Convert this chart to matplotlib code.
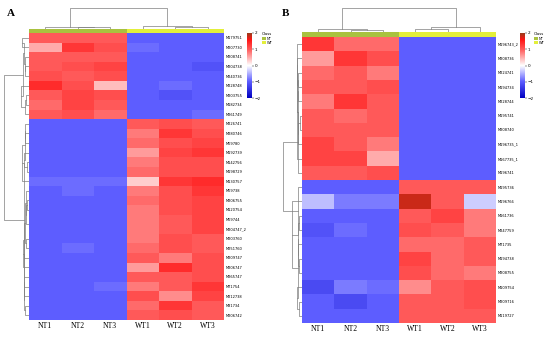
import numpy as np
import matplotlib
matplotlib.use("Agg")
import matplotlib.pyplot as plt
from matplotlib.colors import LinearSegmentedColormap, ListedColormap
from matplotlib.patches import Patch

# ---- data ----
samples = ["NT1", "NT2", "NT3", "WT1", "WT2", "WT3"]
sample_class = ["NT", "NT", "NT", "WT", "WT", "WT"]

genes_a = ["M179751", "M207730", "M208741", "M204738", "M240736", "M228748",
           "M203755", "M182734", "M261749", "M226741", "M280746", "M69780",
           "M192739", "M142756", "M198729", "M130757", "M69738", "M206755",
           "M120754", "M69744", "M204747_2", "M203760", "M251760", "M209747",
           "M206747", "M265747", "M71754", "M212738", "M31734", "M206742"]
values_a = [
    [1.0, 1.0, 1.0, -1.0, -1.0, -1.0],
    [0.5, 1.3, 1.1, -0.9, -1.0, -1.0],
    [1.0, 1.0, 1.0, -1.0, -1.0, -1.0],
    [1.0, 1.1, 1.2, -1.0, -1.0, -1.1],
    [1.1, 1.0, 1.1, -1.0, -1.0, -1.0],
    [1.4, 1.1, 0.4, -1.0, -0.9, -1.0],
    [1.0, 1.2, 1.1, -1.0, -1.1, -1.0],
    [0.9, 1.2, 1.0, -1.0, -1.0, -1.0],
    [1.0, 1.1, 0.9, -1.0, -1.0, -0.9],
    [-1.0, -1.0, -1.0, 1.0, 1.1, 1.0],
    [-1.0, -1.0, -1.0, 0.8, 1.3, 1.1],
    [-1.0, -1.0, -1.0, 0.9, 1.1, 1.2],
    [-1.0, -1.0, -1.0, 0.6, 1.2, 1.3],
    [-1.0, -1.0, -1.0, 0.8, 1.1, 1.1],
    [-1.0, -1.0, -1.0, 0.9, 1.1, 1.1],
    [-0.9, -0.9, -0.9, 0.3, 1.3, 1.4],
    [-1.0, -0.9, -1.0, 0.8, 1.1, 1.3],
    [-1.0, -1.0, -1.0, 0.9, 1.1, 1.2],
    [-1.0, -1.0, -1.0, 0.8, 1.1, 1.2],
    [-1.0, -1.0, -1.0, 0.8, 1.0, 1.2],
    [-1.0, -1.0, -1.0, 0.8, 1.0, 1.2],
    [-1.0, -1.0, -1.0, 0.8, 1.1, 1.0],
    [-1.0, -0.9, -1.0, 0.9, 1.1, 1.0],
    [-1.0, -1.0, -1.0, 1.0, 0.8, 1.1],
    [-1.0, -1.0, -1.0, 0.6, 1.4, 1.1],
    [-1.0, -1.0, -1.0, 1.0, 1.0, 1.1],
    [-1.0, -1.0, -0.9, 0.8, 1.0, 1.3],
    [-1.0, -1.0, -1.0, 1.1, 0.7, 1.2],
    [-1.0, -1.0, -1.0, 0.9, 1.3, 1.0],
    [-1.0, -1.0, -1.0, 1.0, 1.1, 1.0],
]

genes_b = ["M196743_2", "M208736", "M224741", "M194734", "M228744", "M195741",
           "M208740", "M196735_1", "M167735_1", "M196741", "M195736", "M196766",
           "M161736", "M247759", "M71735", "M194738", "M208755", "M109754",
           "M209716", "M119727"]
values_b = [
    [1.3, 0.9, 0.9, -1.0, -1.0, -1.0],
    [0.6, 1.3, 1.1, -1.0, -1.0, -1.0],
    [0.9, 1.0, 0.8, -1.0, -1.0, -1.0],
    [1.0, 1.0, 1.1, -1.0, -1.0, -1.0],
    [0.8, 1.3, 1.0, -1.0, -1.0, -1.0],
    [1.0, 0.9, 1.0, -1.0, -1.0, -1.0],
    [1.0, 1.0, 1.0, -1.0, -1.0, -1.0],
    [1.2, 1.0, 0.8, -1.0, -1.0, -1.0],
    [1.2, 1.2, 0.5, -1.0, -1.0, -1.0],
    [1.0, 1.0, 1.1, -1.0, -1.0, -1.0],
    [-1.0, -1.0, -1.0, 1.0, 1.0, 1.0],
    [-0.4, -0.8, -0.8, 1.8, 1.0, -0.3],
    [-1.0, -1.0, -1.0, 1.0, 1.2, 0.8],
    [-1.1, -0.9, -1.0, 1.1, 1.0, 0.8],
    [-1.0, -1.0, -1.0, 0.9, 0.9, 1.0],
    [-1.0, -1.0, -1.0, 1.2, 0.9, 1.0],
    [-1.0, -1.0, -1.0, 1.1, 0.9, 0.8],
    [-1.2, -0.8, -0.9, 0.7, 1.0, 1.1],
    [-1.0, -1.2, -1.0, 1.0, 1.0, 1.1],
    [-1.0, -1.0, -1.0, 1.0, 1.0, 1.0],
]

class_colors = {"NT": "#a9c23f", "WT": "#e3ef3b"}

cmap = LinearSegmentedColormap.from_list(
    "hm", [(0.0, "#0000c0"), (0.25, "#5c5cff"), (0.5, "#ffffff"),
           (0.75, "#ff5a5a"), (0.9, "#ff1414"), (1.0, "#9a3c1c")])

W, H = 550, 339


def rect(x0, y0, x1, y1):
    # pixel box (top-left origin) -> figure fraction
    return [x0 / W, 1 - y1 / H, (x1 - x0) / W, (y1 - y0) / H]


def adjacent_linkage(X):
    # average linkage, only neighbouring clusters may merge (keeps display order)
    clusters = [[i] for i in range(len(X))]
    pos = [i + 0.5 for i in range(len(X))]
    hts = [0.0] * len(X)
    links = []
    while len(clusters) > 1:
        best, bi = None, 0
        for i in range(len(clusters) - 1):
            a, b = X[clusters[i]], X[clusters[i + 1]]
            d = np.mean([np.linalg.norm(p - q) for p in a for q in b])
            if best is None or d < best:
                best, bi = d, i
        links.append((pos[bi], pos[bi + 1], hts[bi], hts[bi + 1], best))
        clusters[bi] = clusters[bi] + clusters.pop(bi + 1)
        pos[bi] = (pos[bi] + pos.pop(bi + 1)) / 2
        hts[bi] = best
        hts.pop(bi + 1)
    return links


def draw_dendro(ax, links, orient, power):
    for p1, p2, h1, h2, h in links:
        hh = [h1 ** power, h ** power, h ** power, h2 ** power]
        pp = [p1, p1, p2, p2]
        if orient == "left":
            ax.plot(hh, pp, color="#7f7f7f", lw=0.5)
        else:
            ax.plot(pp, hh, color="#7f7f7f", lw=0.5)
    ax.axis("off")


def panel(fig, M, genes, x0, x1, y_top, y_bar, y0, y1, dx0, letter, lx, cbx, lgx):
    M = np.array(M)
    n = len(genes)
    ax = fig.add_axes(rect(x0, y0, x1, y1))
    ax.pcolormesh(M, cmap=cmap, vmin=-2, vmax=2)
    ax.set_ylim(n, 0)
    ax.set_xlim(0, 6)
    ax.set_xticks(np.arange(6) + 0.5)
    ax.set_xticklabels(samples, fontsize=5.5, family="Liberation Serif")
    ax.set_yticks(np.arange(n) + 0.5)
    ax.set_yticklabels(genes, fontsize=2.6)
    ax.yaxis.tick_right()
    ax.tick_params(length=0, pad=1.5)
    for s in ax.spines.values():
        s.set_visible(False)

    # class annotation bar
    axc = fig.add_axes(rect(x0, y_bar, x1, y0))
    axc.pcolormesh([list(range(6))],
                   cmap=ListedColormap([class_colors[c] for c in sample_class]))
    axc.axis("off")

    # column dendrogram
    axd = fig.add_axes(rect(x0, y_top, x1, y_bar))
    draw_dendro(axd, adjacent_linkage(M.T), "top", 1.0)
    axd.set_xlim(0, 6)
    axd.set_ylim(0, None)

    # row dendrogram
    axr = fig.add_axes(rect(dx0, y0, x0, y1))
    draw_dendro(axr, adjacent_linkage(M), "left", 0.6)
    axr.set_ylim(n, 0)
    axr.invert_xaxis()
    axr.set_xlim(None, 0)

    # colour bar
    cax = fig.add_axes(rect(cbx, 33, cbx + 5, 98))
    sm = plt.cm.ScalarMappable(cmap=cmap, norm=plt.Normalize(-2, 2))
    cb = fig.colorbar(sm, cax=cax, ticks=[-2, -1, 0, 1, 2])
    cb.ax.tick_params(labelsize=3, length=1.2, width=0.3, pad=1)
    cb.outline.set_visible(False)

    handles = [Patch(facecolor=class_colors[c], label=c) for c in ["NT", "WT"]]
    leg = fig.legend(handles=handles, title="Class", loc="upper left",
                     bbox_to_anchor=(lgx / W, 1 - 32 / H), fontsize=2.6,
                     title_fontsize=2.8, frameon=False, handlelength=1.0,
                     handleheight=1.0, borderpad=0, labelspacing=0.15,
                     handletextpad=0.4, borderaxespad=0)
    leg._legend_box.align = "left"

    fig.text(lx / W, 1 - 13 / H, letter, fontsize=8, fontweight="bold",
             family="Liberation Serif", va="center", ha="left")


fig = plt.figure(figsize=(5.5, 3.39), dpi=100)
panel(fig, values_a, genes_a, 29, 224, 7, 29, 33, 320, 3, "A", 7, 247, 262)
panel(fig, values_b, genes_b, 302, 496, 7, 32, 37, 323, 282, "B", 282, 520, 534)
fig.savefig("out.png", dpi=100)
